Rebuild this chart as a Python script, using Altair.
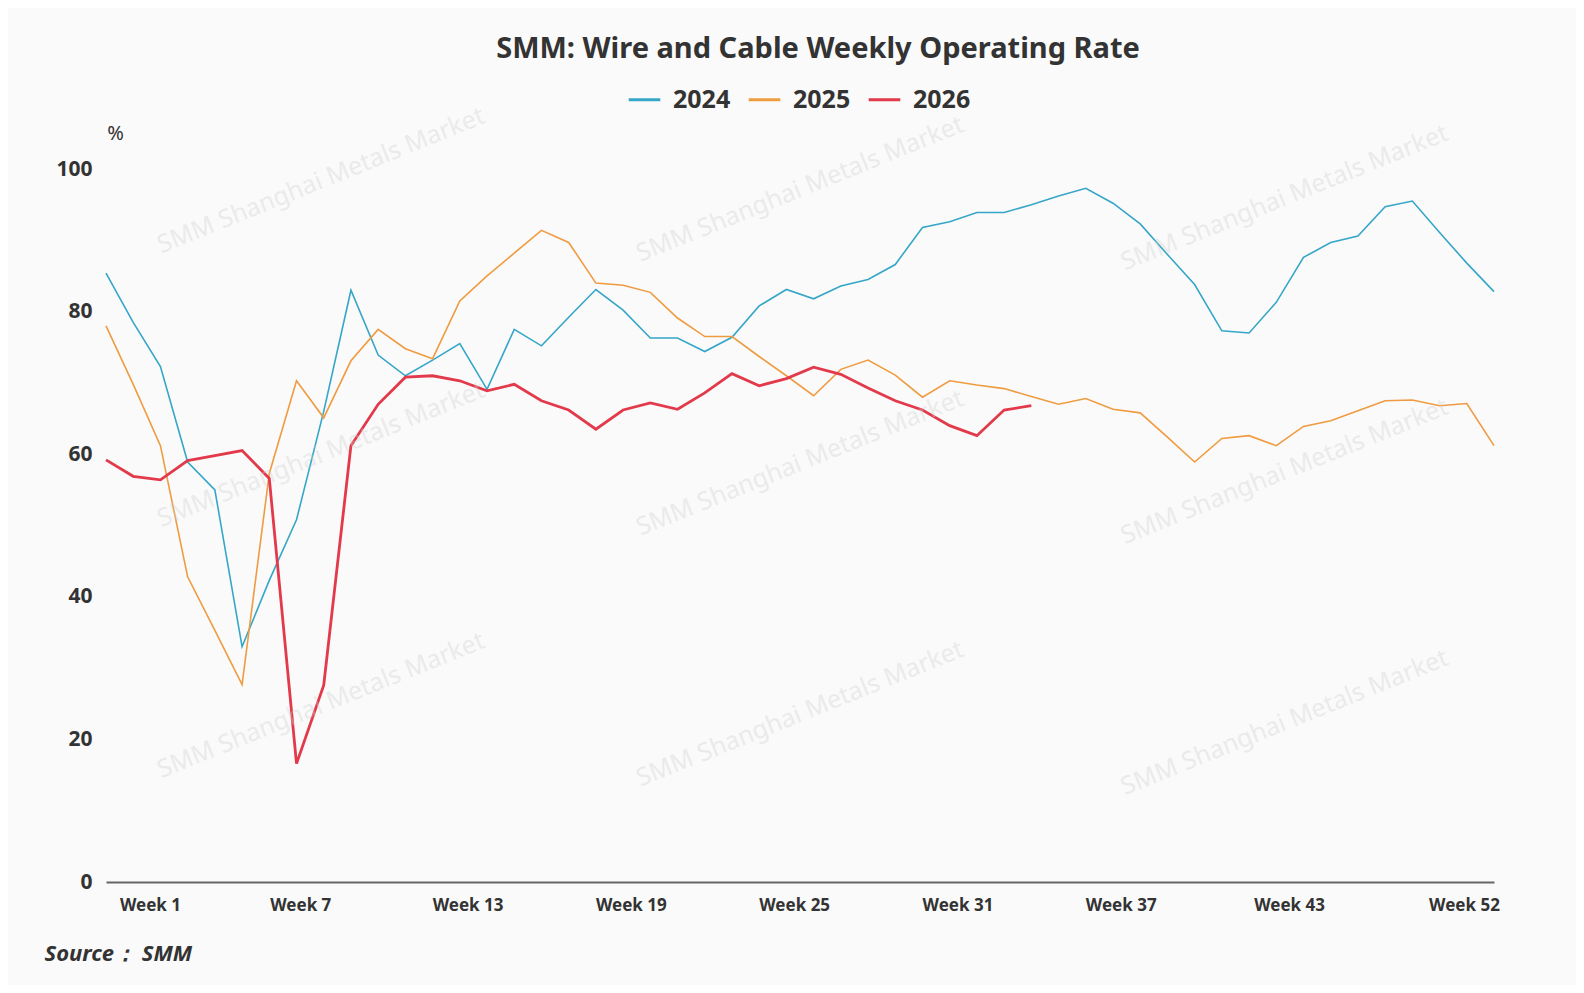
import altair as alt
import pandas as pd

FONT = "Noto Sans"

weeks = list(range(1, 53))
years = ["2024", "2025", "2026"]
rate_2024 = [85.4, 78.5, 72.3, 58.9, 55.0, 33.0, 42.3, 50.8, 66.0, 83.0,
             73.9, 71.0, 73.2, 75.5, 69.1, 77.5, 75.2, 79.2, 83.1, 80.2,
             76.3, 76.3, 74.4, 76.4, 80.8, 83.1, 81.8, 83.6, 84.5, 86.6,
             91.8, 92.6, 93.9, 93.9, 95.0, 96.2, 97.3, 95.2, 92.3, 88.0,
             83.8, 77.3, 77.0, 81.3, 87.6, 89.7, 90.6, 94.7, 95.5, 91.1,
             86.8, 82.8]
rate_2025 = [78.0, 69.8, 61.2, 42.8, 35.3, 27.7, 57.3, 70.3, 65.1, 73.1,
             77.5, 74.8, 73.4, 81.5, 85.0, 88.2, 91.4, 89.7, 84.0, 83.7,
             82.7, 79.1, 76.5, 76.5, 73.7, 71.0, 68.2, 71.9, 73.2, 71.1,
             68.0, 70.3, 69.7, 69.2, 68.1, 67.0, 67.8, 66.3, 65.8, 62.4,
             58.9, 62.2, 62.6, 61.2, 63.9, 64.7, 66.1, 67.5, 67.6, 66.8,
             67.1, 61.2]
rate_2026 = [59.2, 56.9, 56.4, 59.1, 59.8, 60.5, 56.6, 16.6, 27.6, 61.2,
             67.0, 70.8, 71.0, 70.3, 68.9, 69.8, 67.5, 66.2, 63.5, 66.2,
             67.2, 66.3, 68.6, 71.3, 69.6, 70.6, 72.2, 71.2, 69.3, 67.5,
             66.2, 64.0, 62.6, 66.2, 66.8]
colors = ["#36a6c8", "#ef9b40", "#e23a4b"]
week_ticks = [1, 7, 13, 19, 25, 31, 37, 43, 52]
y_ticks = [0, 20, 40, 60, 80, 100]

# faint watermark text (decorative)
wm_text = "SMM Shanghai Metals Market"
wm_weeks = [8.9, 26.5, 44.3]
wm_rates = [98.4, 60.0, 24.8]

rows = []
for year, vals in zip(years, [rate_2024, rate_2025, rate_2026]):
    for w, v in zip(weeks, vals):
        rows.append({"week": w, "year": year, "rate": v})
df = pd.DataFrame(rows)

wm_rows = []
for i, wx in enumerate(wm_weeks):
    for wy in wm_rates:
        wm_rows.append({"week": wx, "rate": wy - 1.2 * i, "label": wm_text})
df_wm = pd.DataFrame(wm_rows)

x_enc = alt.X(
    "week:Q",
    scale=alt.Scale(domain=[1, 52], nice=False, zero=False),
    axis=alt.Axis(
        values=week_ticks,
        labelExpr="'Week ' + datum.value",
        ticks=False,
        grid=False,
        domainColor="#666666",
        domainWidth=2,
        labelFont=FONT,
        labelFontSize=17,
        labelFontWeight="bold",
        labelColor="#333333",
        labelPadding=15,
        labelOverlap=False,
        labelAlign="center",
        labelOffset={
            "condition": [
                {"test": "datum.value == 1", "value": 44},
                {"test": "datum.value == 7", "value": 31},
                {"test": "datum.value == 43", "value": 40},
                {"test": "datum.value == 52", "value": -30},
            ],
            "value": 35,
        },
        title="Source\uff1a SMM",
        titleX=-62,
        titleY=71,
        titleAlign="left",
        titleBaseline="middle",
        titleFont=FONT,
        titleFontSize=22,
        titleFontStyle="italic",
        titleFontWeight="bold",
        titleColor="#333333",
    ),
)

y_enc = alt.Y(
    "rate:Q",
    scale=alt.Scale(domain=[0, 100], nice=False),
    axis=alt.Axis(
        values=y_ticks,
        ticks=False,
        grid=False,
        domain=False,
        labelFont=FONT,
        labelFontSize=21,
        labelFontWeight="bold",
        labelColor="#333333",
        labelPadding=14,
        title="%",
        titleAngle=0,
        titleX=9,
        titleY=-36,
        titleAlign="center",
        titleBaseline="middle",
        titleFont=FONT,
        titleFontSize=20,
        titleFontWeight="normal",
        titleColor="#333333",
    ),
)

color_enc = alt.Color(
    "year:N",
    scale=alt.Scale(domain=years, range=colors),
    legend=alt.Legend(
        title=None,
        orient="none",
        direction="horizontal",
        legendX=521,
        legendY=-87,
        symbolType="stroke",
        symbolSize=1000,
        symbolStrokeWidth=3,
        labelFont=FONT,
        labelFontSize=25,
        labelFontWeight="bold",
        labelColor="#333333",
        labelOffset=11,
        columnPadding=11,
    ),
)

watermark = alt.Chart(df_wm).mark_text(
    font=FONT, fontSize=25, angle=338, color="#cfcfcf", opacity=0.35
).encode(
    x=alt.X("week:Q"),
    y=alt.Y("rate:Q"),
    text="label:N",
)

thin_lines = alt.Chart(df).transform_filter(
    alt.datum.year != "2026"
).mark_line(interpolate="linear", strokeWidth=1.6).encode(
    x=x_enc, y=y_enc, color=color_enc
)

bold_line = alt.Chart(df).transform_filter(
    alt.datum.year == "2026"
).mark_line(interpolate="linear", strokeWidth=2.8).encode(
    x=x_enc, y=y_enc, color=color_enc
)

chart = alt.layer(thin_lines, bold_line, watermark).properties(
    width=1388,
    height=713,
    autosize=alt.AutoSizeParams(type="none"),
    padding={"left": 98, "top": 161, "right": 82, "bottom": 103},
    background="#fafafa",
    title=alt.TitleParams(
        "SMM: Wire and Cable Weekly Operating Rate",
        font=FONT,
        fontSize=29,
        fontWeight="bold",
        color="#333333",
        anchor="middle",
        frame="group",
        dx=18,
        offset=18,
    ),
).configure_view(stroke=None)

chart.save("out.html", embed_options={"renderer": "svg", "actions": False})
